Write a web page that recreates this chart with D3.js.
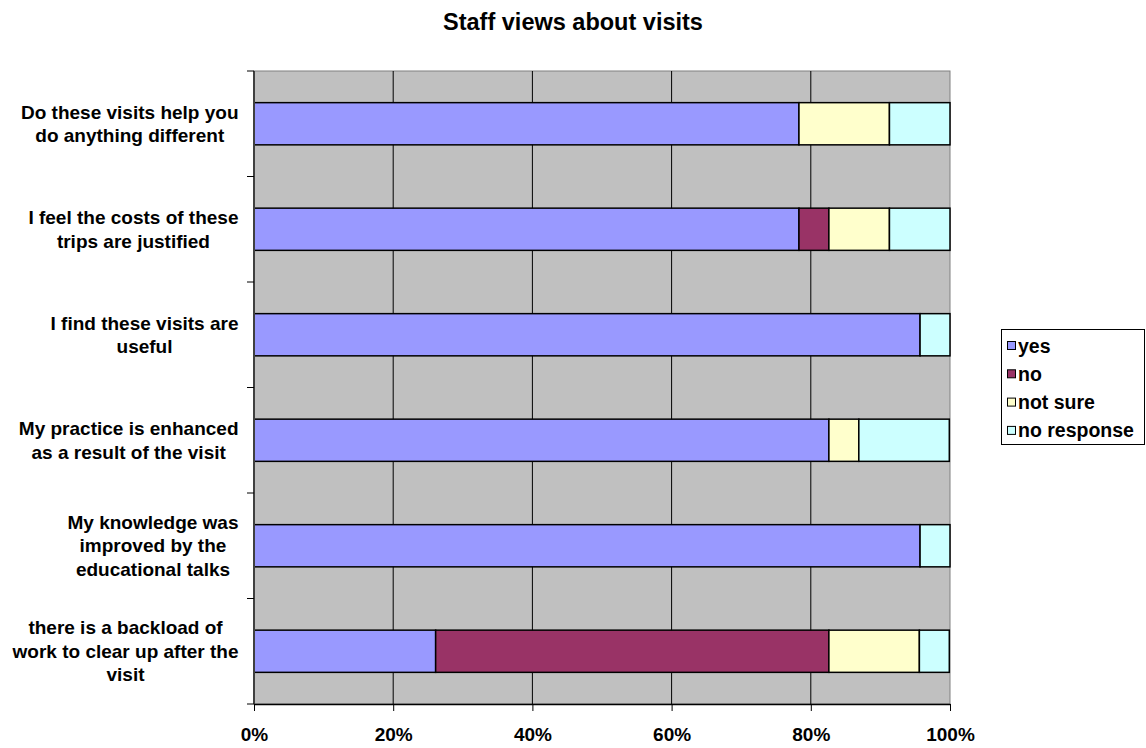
<!DOCTYPE html>
<html><head><meta charset="utf-8">
<script src="https://cdn.jsdelivr.net/npm/d3@7"></script>
<style>body{margin:0;background:#fff;}svg{display:block;font-family:Arial,"Liberation Sans",sans-serif;}</style>
</head><body><svg id="c" width="1146" height="748"></svg>
<script>
const categories = [
  ["Do these visits help you", "do anything different"],
  ["I feel the costs of these", "trips are justified"],
  ["I find these visits are", "useful"],
  ["My practice is enhanced", "as a result of the visit"],
  ["My knowledge was", "improved by the", "educational talks"],
  ["there is a backload of", "work to clear up after the", "visit"]
];
const seriesNames = ["yes", "no", "not sure", "no response"];
const seriesColors = ["#9999ff", "#993366", "#ffffcc", "#ccffff"];
const yes        = [78.3, 78.3, 95.7, 82.6, 95.7, 26.1];
const no         = [0,    4.3,  0,    0,    0,    56.5];
const notSure    = [13.0, 8.7,  0,    4.3,  0,    13.0];
const noResponse = [8.7,  8.7,  4.3,  13.0, 4.3,  4.3];
const xTicks = [0, 20, 40, 60, 80, 100];

const svg = d3.select("#c");
const L = 254, R = 950, T = 71, B = 704;
const x = d3.scaleLinear().domain([0, 100]).range([L, R]);
const y = d3.scaleBand().domain(d3.range(categories.length)).range([T, B]).paddingInner(0.6).paddingOuter(0.3);

// title
svg.append("text").attr("x", 573).attr("y", 30).attr("text-anchor", "middle")
  .attr("font-weight", "bold").attr("font-size", 23.5).text("Staff views about visits");

// plot background
svg.append("rect").attr("x", L).attr("y", T).attr("width", R - L).attr("height", B - T)
  .attr("fill", "#c0c0c0").attr("stroke", "#808080").attr("stroke-width", 1);

// gridlines
svg.append("g").selectAll("line").data(xTicks.slice(1, -1)).join("line")
  .attr("x1", d => x(d)).attr("x2", d => x(d)).attr("y1", T).attr("y2", B)
  .attr("stroke", "#000").attr("stroke-width", 1);

// stacked bars
const rows = categories.map((c, i) => [yes[i], no[i], notSure[i], noResponse[i]]);
const gBars = svg.append("g");
rows.forEach((vals, i) => {
  let acc = 0;
  vals.forEach((v, k) => {
    if (v > 0) {
      gBars.append("rect").attr("x", x(acc)).attr("y", y(i))
        .attr("width", x(acc + v) - x(acc)).attr("height", y.bandwidth())
        .attr("fill", seriesColors[k]).attr("stroke", "#000").attr("stroke-width", 1.5);
    }
    acc += v;
  });
});

// left axis
svg.append("line").attr("x1", L).attr("x2", L).attr("y1", T).attr("y2", B)
  .attr("stroke", "#404040").attr("stroke-width", 2);
const step = (B - T) / categories.length;
svg.append("g").selectAll("line").data(d3.range(categories.length + 1)).join("line")
  .attr("x1", L - 7).attr("x2", L).attr("y1", d => T + d * step).attr("y2", d => T + d * step)
  .attr("stroke", "#000").attr("stroke-width", 1);

// bottom axis
const xAxis = d3.axisBottom(x).tickValues(xTicks).tickFormat(d => d + "%").tickSizeOuter(0).tickSizeInner(7).tickPadding(14);
const gx = svg.append("g").attr("transform", `translate(0,${B})`).call(xAxis);
gx.select(".domain").attr("stroke", "#000").attr("stroke-width", 1.5);
gx.selectAll(".tick line").attr("stroke", "#000");
gx.selectAll("text").attr("font-weight", "bold").attr("font-size", 19).attr("fill", "#000")
  .attr("font-family", "Arial, 'Liberation Sans', sans-serif").attr("dy", null).attr("y", 37);

// category labels
const lh = 23.5;
categories.forEach((lines, i) => {
  const t = svg.append("text").attr("font-weight", "bold").attr("font-size", 19).attr("text-anchor", "middle");
  const cy = y(i) + y.bandwidth() / 2;
  const y0 = cy - (lines.length - 1) * lh / 2 + 6.5;
  lines.forEach((ln, j) => t.append("tspan").attr("y", y0 + j * lh).text(ln));
  const w = d3.max(t.selectAll("tspan").nodes(), n => n.getComputedTextLength());
  t.selectAll("tspan").attr("x", 238.5 - w / 2);
});

// legend
const lg = svg.append("g");
lg.append("rect").attr("x", 1001.5).attr("y", 329.5).attr("width", 143).attr("height", 115)
  .attr("fill", "#fff").attr("stroke", "#000").attr("stroke-width", 1);
seriesNames.forEach((n, k) => {
  const cy = 346 + k * 28.3;
  lg.append("rect").attr("x", 1007.5).attr("y", cy - 4.5).attr("width", 8).attr("height", 8)
    .attr("fill", seriesColors[k]).attr("stroke", "#000").attr("stroke-width", 1);
  lg.append("text").attr("x", 1018).attr("y", cy + 6.5).attr("font-weight", "bold").attr("font-size", 19.5).text(n);
});
</script></body></html>
